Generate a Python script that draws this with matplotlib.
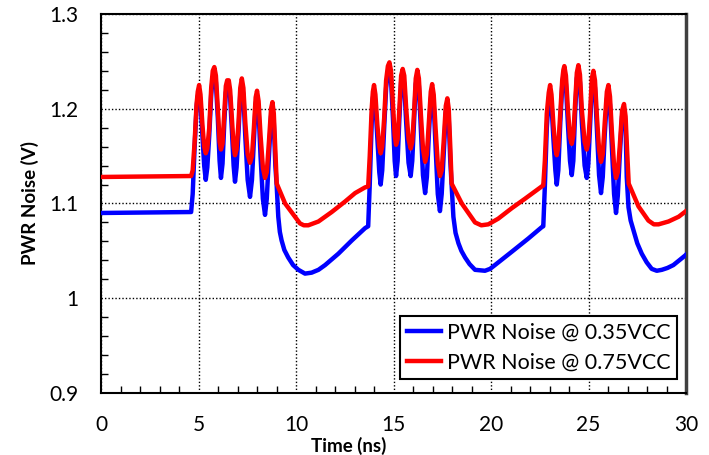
import matplotlib
matplotlib.use("Agg")
import matplotlib.pyplot as plt
from matplotlib.ticker import MultipleLocator

plt.rcParams['font.family'] = ['Lato', 'DejaVu Sans']

# PWR Noise @ 0.35VCC (blue), time in ns / volts
blue_t = [0.0, 4.62,
          4.70, 4.80, 4.90, 4.96, 5.03, 5.10, 5.20, 5.29, 5.37, 5.45, 5.55, 5.65, 5.73, 5.81,
          5.89, 5.99, 6.08, 6.15, 6.23, 6.32, 6.40, 6.47, 6.55, 6.62, 6.71, 6.80, 6.87, 6.95,
          7.05, 7.14, 7.22, 7.30, 7.40, 7.52, 7.64, 7.74, 7.84, 7.93, 8.00, 8.08, 8.18, 8.30,
          8.41, 8.50, 8.61, 8.72, 8.79, 8.86, 8.94, 9.01, 9.09, 9.17, 9.26, 9.40, 9.60, 9.85,
          10.12, 10.46, 10.80, 11.15, 11.49, 12.17, 12.86, 13.54, 13.70,
          13.78, 13.88, 13.94, 14.00, 14.07, 14.17, 14.27, 14.34, 14.42, 14.52, 14.62, 14.71,
          14.79, 14.87, 14.97, 15.06, 15.13, 15.21, 15.30, 15.39, 15.47, 15.55, 15.65, 15.77,
          15.88, 15.96, 16.05, 16.14, 16.22, 16.30, 16.40, 16.51, 16.62, 16.71, 16.81, 16.91,
          16.98, 17.06, 17.16, 17.27, 17.38, 17.47, 17.57, 17.68, 17.76, 17.83, 17.91, 17.98,
          18.07, 18.18, 18.33, 18.48, 18.67, 18.90, 19.18, 19.69, 19.95, 20.20, 21.06, 21.91,
          22.60, 22.68,
          22.76, 22.86, 22.96, 23.03, 23.10, 23.20, 23.30, 23.37, 23.45, 23.55, 23.65, 23.71,
          23.76, 23.84, 23.94, 24.05, 24.14, 24.22, 24.31, 24.40, 24.48, 24.56, 24.66, 24.80,
          24.91, 24.99, 25.08, 25.17, 25.25, 25.33, 25.43, 25.54, 25.64, 25.73, 25.83, 25.94,
          26.02, 26.10, 26.20, 26.31, 26.41, 26.50, 26.60, 26.72, 26.82, 26.90, 26.96, 27.05,
          27.16, 27.30, 27.50, 27.73, 27.98, 28.24, 28.50, 28.76, 29.05, 29.35, 29.95, 30.0]
blue_v = [1.090, 1.091,
          1.110, 1.160, 1.202, 1.213, 1.219, 1.207, 1.172, 1.140, 1.125, 1.138, 1.172, 1.215, 1.233, 1.238,
          1.228, 1.190, 1.145, 1.127, 1.142, 1.185, 1.217, 1.224, 1.224, 1.212, 1.178, 1.140, 1.123, 1.138,
          1.175, 1.215, 1.226, 1.214, 1.170, 1.125, 1.107, 1.125, 1.168, 1.205, 1.213, 1.198, 1.150, 1.105,
          1.088, 1.105, 1.150, 1.192, 1.201, 1.185, 1.140, 1.118, 1.086, 1.070, 1.061, 1.051, 1.043, 1.035,
          1.030, 1.026, 1.027, 1.030, 1.035, 1.047, 1.061, 1.074, 1.076,
          1.120, 1.185, 1.211, 1.219, 1.205, 1.168, 1.133, 1.120, 1.135, 1.180, 1.222, 1.239,
          1.243, 1.232, 1.190, 1.145, 1.129, 1.145, 1.190, 1.228, 1.236, 1.226, 1.185, 1.143,
          1.129, 1.145, 1.185, 1.226, 1.235, 1.224, 1.180, 1.130, 1.111, 1.128, 1.172, 1.210,
          1.220, 1.205, 1.158, 1.110, 1.092, 1.110, 1.152, 1.196, 1.205, 1.190, 1.145, 1.120,
          1.086, 1.069, 1.058, 1.050, 1.043, 1.036, 1.030, 1.029, 1.031, 1.035, 1.049, 1.063,
          1.075, 1.076,
          1.118, 1.180, 1.210, 1.219, 1.205, 1.168, 1.135, 1.120, 1.135, 1.185, 1.224, 1.235,
          1.239, 1.226, 1.185, 1.145, 1.130, 1.145, 1.195, 1.232, 1.240, 1.228, 1.185, 1.140,
          1.127, 1.142, 1.182, 1.224, 1.234, 1.222, 1.178, 1.130, 1.111, 1.128, 1.172, 1.210,
          1.219, 1.204, 1.160, 1.110, 1.090, 1.108, 1.150, 1.192, 1.199, 1.183, 1.128, 1.096,
          1.082, 1.072, 1.058, 1.047, 1.038, 1.031, 1.029, 1.030, 1.032, 1.035, 1.045, 1.046]

# PWR Noise @ 0.75VCC (red)
red_t = [0.0, 4.62,
         4.70, 4.80, 4.90, 4.96, 5.03, 5.10, 5.20, 5.29, 5.37, 5.45, 5.55, 5.65, 5.73, 5.81,
         5.89, 5.99, 6.08, 6.15, 6.23, 6.32, 6.40, 6.47, 6.55, 6.62, 6.71, 6.80, 6.87, 6.95,
         7.05, 7.14, 7.22, 7.30, 7.40, 7.52, 7.64, 7.74, 7.84, 7.93, 8.00, 8.08, 8.18, 8.30,
         8.41, 8.50, 8.61, 8.72, 8.79, 8.86, 8.94, 9.01, 9.44, 9.95, 10.20, 10.40, 10.63, 11.15,
         11.83, 12.51, 13.03, 13.54, 13.70,
         13.78, 13.88, 13.94, 14.00, 14.07, 14.17, 14.27, 14.34, 14.42, 14.52, 14.62, 14.71,
         14.79, 14.87, 14.97, 15.06, 15.13, 15.21, 15.30, 15.39, 15.47, 15.55, 15.65, 15.77,
         15.88, 15.96, 16.05, 16.14, 16.22, 16.30, 16.40, 16.51, 16.62, 16.71, 16.81, 16.91,
         16.98, 17.06, 17.16, 17.27, 17.38, 17.47, 17.57, 17.68, 17.76, 17.83, 17.91, 17.98,
         18.50, 19.18, 19.50, 19.86, 20.37, 21.06, 21.74, 22.60, 22.68,
         22.76, 22.86, 22.96, 23.03, 23.10, 23.20, 23.30, 23.37, 23.45, 23.55, 23.65, 23.71,
         23.76, 23.84, 23.94, 24.05, 24.14, 24.22, 24.31, 24.40, 24.48, 24.56, 24.66, 24.80,
         24.91, 24.99, 25.08, 25.17, 25.25, 25.33, 25.43, 25.54, 25.64, 25.73, 25.83, 25.94,
         26.02, 26.10, 26.20, 26.31, 26.41, 26.50, 26.60, 26.72, 26.82, 26.90, 26.98, 27.06,
         27.56, 28.07, 28.35, 28.59, 29.10, 29.62, 30.0]
red_v = [1.128, 1.129,
         1.135, 1.165, 1.205, 1.218, 1.225, 1.215, 1.183, 1.160, 1.153, 1.158, 1.180, 1.222, 1.240, 1.244,
         1.235, 1.200, 1.165, 1.157, 1.163, 1.195, 1.224, 1.230, 1.230, 1.220, 1.190, 1.160, 1.151, 1.157,
         1.185, 1.222, 1.232, 1.222, 1.185, 1.152, 1.143, 1.150, 1.180, 1.212, 1.219, 1.208, 1.172, 1.138,
         1.127, 1.133, 1.165, 1.200, 1.207, 1.195, 1.155, 1.121, 1.100, 1.086, 1.079, 1.077, 1.077, 1.081,
         1.091, 1.102, 1.111, 1.117, 1.118,
         1.150, 1.200, 1.218, 1.225, 1.215, 1.183, 1.160, 1.153, 1.160, 1.190, 1.230, 1.245,
         1.249, 1.240, 1.205, 1.172, 1.162, 1.168, 1.200, 1.235, 1.242, 1.235, 1.200, 1.168,
         1.158, 1.165, 1.195, 1.232, 1.241, 1.232, 1.195, 1.158, 1.144, 1.152, 1.185, 1.218,
         1.226, 1.215, 1.178, 1.142, 1.129, 1.135, 1.165, 1.203, 1.211, 1.200, 1.160, 1.121,
         1.100, 1.080, 1.077, 1.078, 1.084, 1.095, 1.105, 1.118, 1.119,
         1.145, 1.195, 1.217, 1.225, 1.215, 1.183, 1.158, 1.151, 1.160, 1.195, 1.230, 1.241,
         1.245, 1.235, 1.200, 1.170, 1.163, 1.172, 1.205, 1.238, 1.246, 1.236, 1.198, 1.165,
         1.157, 1.165, 1.195, 1.232, 1.240, 1.230, 1.192, 1.157, 1.144, 1.152, 1.185, 1.218,
         1.225, 1.213, 1.175, 1.140, 1.127, 1.133, 1.160, 1.198, 1.205, 1.192, 1.155, 1.121,
         1.097, 1.082, 1.078, 1.078, 1.081, 1.086, 1.092]

x_ticks = [0, 5, 10, 15, 20, 25, 30]
y_ticks = [0.9, 1.0, 1.1, 1.2, 1.3]
y_tick_labels = ['0.9', '1', '1.1', '1.2', '1.3']

fig = plt.figure(figsize=(7.09, 4.55), dpi=100)
ax = fig.add_axes([0.1425, 0.1363, 0.8251, 0.8329])

ax.plot(blue_t, blue_v, color='#0000FF', lw=3.2, solid_joinstyle='round',
        label='PWR Noise @ 0.35VCC', zorder=3)
ax.plot(red_t, red_v, color='#FF0000', lw=3.2, solid_joinstyle='round',
        label='PWR Noise @ 0.75VCC', zorder=4)

ax.set_xlim(0, 30)
ax.set_ylim(0.9, 1.3)
ax.set_xticks(x_ticks)
ax.set_yticks(y_ticks)
ax.set_yticklabels(y_tick_labels)
ax.xaxis.set_minor_locator(MultipleLocator(1))
ax.yaxis.set_minor_locator(MultipleLocator(0.02))
ax.tick_params(which='both', direction='in', labelsize=15, width=1, color='black')
ax.tick_params(which='major', length=0, pad=16)
ax.tick_params(which='minor', length=5)
ax.tick_params(axis='x', which='both', top=False)
ax.tick_params(axis='y', which='both', right=False)

ax.grid(True, which='major', color='black', linestyle=(0, (1, 1.5)), lw=1)

for side in ['left', 'bottom', 'top']:
    ax.spines[side].set_color('black')
    ax.spines[side].set_linewidth(1.5)
ax.spines['right'].set_color('#404040')
ax.spines['right'].set_linewidth(2.5)

ax.set_xlabel('Time (ns)', fontsize=13.5, fontweight='bold')
ax.xaxis.set_label_coords(0.424, -0.115)
ax.set_ylabel('PWR Noise (V)', fontsize=13.5, fontweight='bold', labelpad=8)

leg = ax.legend(loc='lower right', bbox_to_anchor=(0.984, 0.037), fontsize=15.5,
                frameon=True, fancybox=False, framealpha=1, edgecolor='black',
                handlelength=1.6, handletextpad=0.25, borderpad=0.3,
                labelspacing=0.45, borderaxespad=0)
leg.get_frame().set_linewidth(1.5)

fig.savefig('out.png', dpi=100)
